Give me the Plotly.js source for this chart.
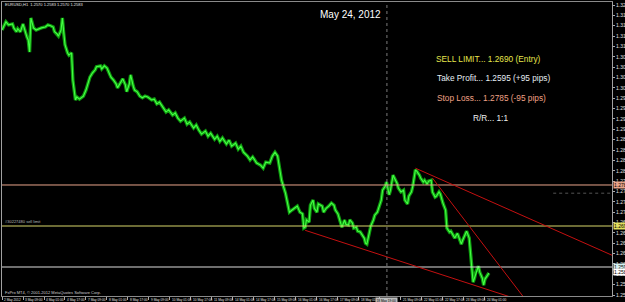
<!DOCTYPE html>
<html>
<head>
<meta charset="utf-8">
<script src="https://cdn.plot.ly/plotly-3.0.1.min.js"></script>
<style>html,body{margin:0;padding:0;background:#000;}#chart{width:625px;height:302px;}</style>
</head>
<body>
<div id="chart"></div>
<script>
// H1 bar index (0 = first visible bar) and close price
const barIndex = [0,2,3,5,8,9,11,12,14,16,18,19,20,21,22,23,24,26,28,30,33,35,37,39,40,42,43,45,46,47,48,50,51,53,
54,56,57,59,62,64,66,67,69,71,72,75,76,78,80,82,83,85,87,88,91,92,94,95,97,98,100,101,103,105,107,109,111,
114,116,118,120,123,125,127,130,132,134,136,139,141,143,146,148,150,152,155,157,159,162,164,166,168,171,173,175,178,180,182,184,187,189,191,194,197,199,201,204,206,208,210,211,213,216,218,219,221,223,225,227,229,230,231,232,234,235,237,238,240,241,244,245,247,249,251,253,254,256,258,259,261,262,264,265,267,268,270,271,273,274,276,277,278,280,281,283,284,286,287,289,290,292,293,295,296,298,299,301,302,304,306,307,309,310,312,313,315,316,318,319,321,322,324,325,327,328,330,331,333,334,336,338,339,341,342,344,345,347,348,350,351,353,354,356,357,358,359,360,361,363,364,366,367,368,370,371];
const closePrice = [1.3144,1.3158,1.3163,1.3156,1.3158,1.3149,1.3140,1.3147,1.3140,1.3158,1.3135,1.3128,1.3121,1.3093,1.3172,1.3156,1.3149,1.3144,1.3147,1.3149,1.3151,1.3156,1.3154,1.3151,1.3140,1.3135,1.3130,1.3144,1.3172,1.3137,1.3110,1.3091,1.3086,1.3091,
1.3028,1.2982,1.2989,1.2984,1.2991,1.3005,1.3022,1.3035,1.3045,1.3052,1.3059,1.3061,1.3054,1.3061,1.3056,1.3042,1.3035,1.3028,1.3019,1.3010,1.3024,1.3031,1.3017,1.3001,1.3019,1.3040,1.3014,1.3005,1.3001,1.2991,1.2987,1.2991,1.2989,
1.2982,1.2984,1.2973,1.2977,1.2963,1.2954,1.2959,1.2947,1.2952,1.2940,1.2933,1.2940,1.2926,1.2931,1.2917,1.2924,1.2912,1.2903,1.2910,1.2898,1.2905,1.2891,1.2898,1.2886,1.2894,1.2880,1.2889,1.2875,1.2882,1.2868,1.2875,1.2861,1.2852,1.2843,1.2850,1.2836,1.2831,1.2824,1.2838,1.2836,1.2852,1.2861,1.2852,1.2831,1.2796,1.2766,1.2734,1.2722,1.2727,1.2731,1.2736,1.2722,1.2718,1.2685,1.2687,1.2704,1.2699,1.2738,1.2750,1.2731,1.2722,1.2741,1.2736,1.2722,1.2731,1.2736,1.2743,1.2738,1.2727,1.2718,1.2694,1.2687,1.2704,1.2694,1.2692,1.2704,1.2697,1.2685,1.2687,1.2678,1.2676,1.2671,1.2662,1.2650,1.2648,1.2676,1.2690,1.2704,1.2715,1.2722,1.2731,1.2750,1.2773,1.2782,1.2792,1.2762,1.2773,1.2808,1.2801,1.2789,1.2778,1.2769,1.2773,1.2750,1.2741,1.2759,1.2769,1.2782,1.2820,1.2817,1.2808,1.2801,1.2792,1.2796,1.2787,1.2794,1.2796,1.2769,1.2757,1.2759,1.2769,1.2764,1.2743,1.2727,1.2685,1.2676,1.2678,1.2669,1.2662,1.2673,1.2666,1.2648,1.2657,1.2671,1.2678,1.2662,1.2634,1.2592,1.2560,1.2569,1.2583,1.2597,1.2583,1.2569,1.2553,1.2567,1.2576,1.2581];

// time axis labels (every 16 bars)
const timeTickBars = [0,16,32,48,64,80,96,112,128,144,160,176,192,208,224,240,256,272,288,304,320,336,352,368];
const timeTickText = ["2 May 2012","3 May 09:00","4 May 01:00","4 May 17:00","7 May 09:00","8 May 01:00","8 May 17:00","9 May 09:00","10 May 01:00","10 May 17:00","11 May 09:00","14 May 01:00","14 May 17:00","15 May 09:00","16 May 01:00","16 May 17:00","17 May 09:00","18 May 01:00","18 May 17:00","21 May 09:00","22 May 01:00","22 May 17:00","23 May 09:00","24 May 01:00"];

// price axis ticks
const priceTicks = [1.2530,1.2554,1.2578,1.2602,1.2626,1.2650,1.2674,1.2698,1.2722,1.2746,1.2770,1.2794,1.2818,1.2842,1.2866,1.2890,1.2914,1.2938,1.2962,1.2986,1.3010,1.3034,1.3058,1.3082,1.3106,1.3130,1.3154,1.3178,1.3202];

// trade levels
const stopLoss = 1.2785, entry = 1.2690, takeProfit = 1.2595, bidPrice = 1.2583;
// trend lines: [bar0, price0, bar1, price1]
const lowerTrend = [231, 1.2680, 395, 1.2518];
const upperTrend = [315, 1.2824, 465, 1.2622];
const steepTrend = [328, 1.2801, 402, 1.2507];
const crosshairBar = 293.3, crosshairPrice = 1.2766, crosshairTime = '18 May 19:00';

const FONT = 'Liberation Sans, Arial, sans-serif';

const traceBody = {
  x: barIndex, y: closePrice, type: 'scatter', mode: 'lines',
  line: {color: '#0f9a0f', width: 3.4}, hoverinfo: 'skip'
};
const traceCore = {
  x: barIndex, y: closePrice, type: 'scatter', mode: 'lines',
  line: {color: '#45ff45', width: 1.1}, hoverinfo: 'skip'
};

function hline(p, color, dash, x0) {
  return {type:'line', xref: x0===undefined ? 'paper':'x', yref:'y', x0: x0===undefined?0:x0, x1: x0===undefined?1:465, y0:p, y1:p,
    line:{color:color, width:1, dash:dash||'solid'}};
}
function tline(t, color) {
  return {type:'line', xref:'x', yref:'y', x0:t[0], y0:t[1], x1:t[2], y1:t[3], line:{color:color, width:1}};
}

const shapes = [
  {type:'line', xref:'x', yref:'paper', x0:crosshairBar, x1:crosshairBar, y0:0, y1:1, line:{color:'#7a7a7a', width:1, dash:'dot'}},
  hline(crosshairPrice, '#555555', 'dot', 420),
  hline(stopLoss, '#e9a48a'),
  hline(entry, '#d8d66a'),
  hline(takeProfit, '#dcdcdc'),
  tline(lowerTrend, '#c41010'),
  tline(upperTrend, '#c41010'),
  tline(steepTrend, '#c41010')
];

function pLabel(p, bg) {
  return {xref:'paper', yref:'y', x:1.002, y:p, xanchor:'left', yanchor:'middle', text: p.toFixed(4),
    showarrow:false, bgcolor:bg, font:{family:FONT, size:5, color:'#000'}, borderpad:0};
}
function txt(text, x, y, color, size, anchor) {
  return {xref:'paper', yref:'paper', x:x, y:y, xanchor:anchor||'center', yanchor:'middle', text:text,
    showarrow:false, font:{family:FONT, size:size, color:color}};
}

const annotations = [
  txt('May 24, 2012', 0.5705, 0.956, '#ffffff', 10),
  txt('SELL LIMIT... 1.2690 (Entry)', 0.797, 0.806, '#e6e64c', 8.3),
  txt('Take Profit... 1.2595 (+95 pips)', 0.806, 0.7415, '#e6eef4', 8.3),
  txt('Stop Loss... 1.2785 (-95 pips)', 0.803, 0.673, '#f0a286', 8.3),
  txt('R/R... 1:1', 0.8, 0.605, '#f0f0f0', 8.3),
  txt('EURUSD,H1  1.2570 1.2583 1.2570 1.2583', 0.002, 0.99, '#e0e0e0', 4, 'left'),
  txt('FxPro MT4, © 2001-2012 MetaQuotes Software Corp.', 0.002, 0.011, '#d0d0d0', 4, 'left'),
  {xref:'paper', yref:'y', x:0.002, y:entry, xanchor:'left', yanchor:'bottom', text:'#30227480 sell limit', showarrow:false,
    font:{family:FONT, size:4, color:'#bbbbbb'}},
  pLabel(stopLoss, '#e9a48a'),
  pLabel(entry, '#e2e060'),
  pLabel(takeProfit, '#d4f0f0'),
  pLabel(bidPrice, '#ffffff')
];
// time labels, drawn just right of each tick, MT4 style (the one under the crosshair box is hidden by it)
timeTickBars.forEach((b, i) => {
  if (Math.abs(b - crosshairBar) < 8) return;
  annotations.push({xref:'x', yref:'paper', x:b, y:-0.004, xanchor:'left', yanchor:'top', text:timeTickText[i],
    showarrow:false, font:{family:FONT, size:3.2, color:'#e0e0e0'}, borderpad:0, xshift:1});
});
annotations.push({xref:'x', yref:'paper', x:crosshairBar, y:-0.004, xanchor:'center', yanchor:'top', text:crosshairTime, showarrow:false,
    bgcolor:'#bdbdbd', font:{family:FONT, size:3.2, color:'#000'}, borderpad:0.5});

const layout = {
  width: 625, height: 302,
  margin: {l: 2, r: 13, t: 2, b: 6},
  paper_bgcolor: '#000', plot_bgcolor: '#000',
  showlegend: false,
  xaxis: {
    range: [0, 464.8], tickmode: 'array', tickvals: timeTickBars, showticklabels: false,
    showgrid: false, zeroline: false, showline: true, mirror: true, linecolor: '#8a8a8a', linewidth: 1,
    ticks: 'outside', ticklen: 3, tickcolor: '#aaaaaa', fixedrange: true
  },
  yaxis: {
    range: [1.25278, 1.32090], side: 'right', tickmode: 'array', tickvals: priceTicks,
    ticktext: priceTicks.map(v => v.toFixed(4)),
    showgrid: false, zeroline: false, showline: true, mirror: true, linecolor: '#a0a0a0', linewidth: 1,
    ticks: 'outside', ticklen: 2, tickcolor: '#aaaaaa',
    tickfont: {family: FONT, size: 5, color: '#e0e0e0'}, fixedrange: true
  },
  shapes: shapes,
  annotations: annotations
};

Plotly.newPlot('chart', [traceBody, traceCore], layout, {displayModeBar: false, staticPlot: true});
</script>
</body>
</html>
